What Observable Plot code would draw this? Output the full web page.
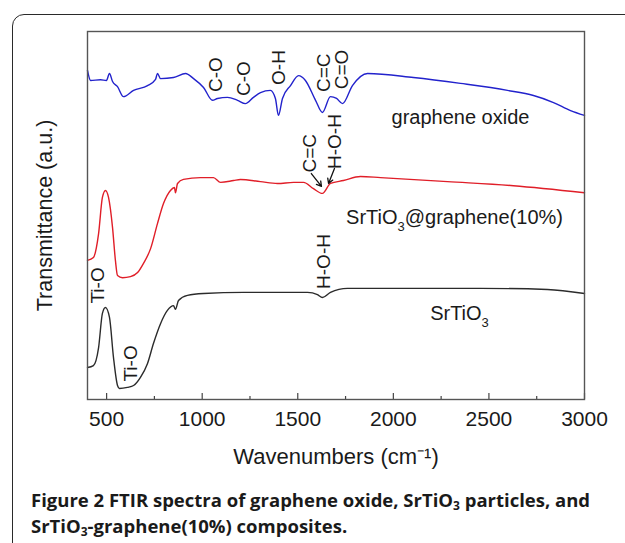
<!DOCTYPE html>
<html>
<head>
<meta charset="utf-8">
<script src="https://cdn.jsdelivr.net/npm/d3@7"></script>
<script src="https://cdn.jsdelivr.net/npm/@observablehq/plot@0.6"></script>
<style>
  html, body { margin: 0; padding: 0; background: #fff; width: 625px; height: 543px; overflow: hidden; }
  #box { position: absolute; left: 12px; top: 14px; width: 700px; height: 600px; border: 1.5px solid #2a2a2a; border-radius: 12px; box-sizing: border-box; }
  #chart { position: absolute; left: 0; top: 0; }
  #caption { position: absolute; left: 31px; top: 487px; font-family: "Open Sans", sans-serif; font-weight: 700; font-size: 18.5px; line-height: 25.5px; color: #1a1a1a; white-space: nowrap; letter-spacing: 0px; }
  #caption sub { font-size: 12px; vertical-align: -3px; line-height: 0; }
</style>
</head>
<body>
<div id="box"></div>
<div id="chart"></div>
<div id="caption">Figure 2 FTIR spectra of graphene oxide, SrTiO<sub>3</sub> particles, and<br>SrTiO<sub>3</sub>-graphene(10%) composites.</div>
<script>
// Wavenumber (cm^-1) and transmittance (a.u.)
const goWave = [400,416,468,499,515,531,557,588,641,714,756,766,782,850,913,955,1007,1054,1080,1132,1185,1226,1268,1305,1357,1383,1399,1420,1462,1504,1540,1593,1629,1671,1703,1734,1786,1865,2105,2351,2597,2733,2838,2927,3000];
const goT    = [89.4,86.7,86.9,86.7,88.6,86.4,85.0,82.3,84.0,85.3,87.0,88.6,87.2,87.5,88.6,87.2,84.8,81.3,81.8,82.1,81.3,80.4,82.1,83.4,84.0,81.8,77.2,81.8,85.3,88.0,86.7,81.3,78.0,82.3,81.8,80.4,85.3,88.6,87.5,85.9,84.0,82.6,80.7,78.5,77.2];

const compWave = [400,431,458,478,494,510,531,546,557,583,625,662,693,730,766,798,834,855,860,871,902,991,1059,1096,1164,1200,1305,1394,1478,1530,1582,1629,1671,1739,1828,1933,2283,2628,3000];
const compT    = [37.8,38.6,45.1,54.9,56.8,54.9,46.7,37.8,33.7,33.1,33.4,34.5,37.0,41.0,47.8,53.3,56.8,57.6,56.2,58.7,59.8,60.3,60.3,59.0,59.5,59.8,59.2,58.7,59.0,59.0,57.3,56.0,58.7,59.5,60.6,60.3,59.2,58.1,56.2];

const stoWave = [400,431,458,478,494,515,536,557,567,609,641,677,714,745,782,818,850,860,876,923,1007,1216,1551,1603,1629,1671,1760,2022,2456,2806,3000];
const stoT    = [8.7,9.2,14.1,23.4,25.0,22.3,11.4,3.8,3.0,3.3,3.8,6.0,9.8,15.2,20.6,24.2,25.5,24.5,26.9,28.3,28.8,29.1,29.1,28.5,27.7,29.1,30.2,30.2,30.2,29.9,28.8];

const seriesNames  = ["graphene oxide", "SrTiO3@graphene(10%)", "SrTiO3"];
const seriesColors = ["#2222cc", "#e01e28", "#2b2b2b"];
const seriesLabelWave = [2351, 2320, 2346];
const seriesLabelT    = [76.6, 49.4, 23.4];

// Band assignments (rotated labels)
const bandText = ["C-O","C-O","O-H","C=C","C=O","C=C","H-O-H","Ti-O","Ti-O","H-O-H"];
const bandWave = [1070,1216,1399,1635,1729,1561,1692,452,625,1635];
const bandT    = [88.3,87.2,90.2,88.8,89.7,66.9,70.1,31.0,9.8,37.5];

// Arrows pointing at the composite's C=C / H-O-H dip
const arrowWave1 = [1571,1692];
const arrowT1    = [61.4,62.8];
const arrowWave2 = [1624,1661];
const arrowT2    = [57.9,58.7];

const xMajor = [500,1000,1500,2000,2500,3000];
const xMinor = [750,1250,1750,2250,2750];

const toRows = (w, t, name) => w.map((x, i) => ({x, y: t[i], name}));
const rows = [
  ...toRows(goWave, goT, seriesNames[0]),
  ...toRows(compWave, compT, seriesNames[1]),
  ...toRows(stoWave, stoT, seriesNames[2])
];
const labels = seriesNames.map((name, i) => ({name, x: seriesLabelWave[i], y: seriesLabelT[i]}));
const bands = bandText.map((t, i) => ({t, x: bandWave[i], y: bandT[i]}));
const arrows = arrowWave1.map((x1, i) => ({x1, y1: arrowT1[i], x2: arrowWave2[i], y2: arrowT2[i]}));

const plot = Plot.plot({
  width: 625,
  height: 480,
  marginLeft: 87,
  marginRight: 41,
  marginTop: 31,
  marginBottom: 81,
  style: {fontFamily: "'Liberation Sans', Arial, sans-serif", background: "transparent", color: "#1a1a1a"},
  x: {domain: [400, 3000], axis: null},
  y: {domain: [0, 100], axis: null},
  color: {domain: seriesNames, range: seriesColors},
  marks: [
    Plot.line(rows, {x: "x", y: "y", z: "name", stroke: "name", strokeWidth: 1.4, curve: "monotone-x"}),
    Plot.arrow(arrows, {x1: "x1", y1: "y1", x2: "x2", y2: "y2", stroke: "#111", strokeWidth: 1.3, headLength: 7}),
    Plot.text(bands, {x: "x", y: "y", text: "t", rotate: -90, fontSize: 19, fill: "#1a1a1a"}),
    Plot.text(labels, {x: "x", y: "y", text: "name", fontSize: 20, fill: "#1a1a1a"}),
    Plot.tickX(xMajor, {x: d => d, insetTop: 362, stroke: "#444", strokeWidth: 1.2}),
    Plot.tickX(xMinor, {x: d => d, insetTop: 365, stroke: "#444", strokeWidth: 1.2}),
    Plot.axisX(xMajor, {tickSize: 0, tickPadding: 12, fontSize: 21, label: null, fill: "#1a1a1a", tickFormat: d => String(d)}),
    Plot.text(["Wavenumbers (cm⁻¹)"], {frameAnchor: "bottom", dy: 64, fontSize: 22, fill: "#1a1a1a"}),
    Plot.text(["Transmittance (a.u.)"], {frameAnchor: "left", textAnchor: "middle", dx: -42, rotate: -90, fontSize: 21.5, fill: "#1a1a1a"}),
    Plot.frame({stroke: "#555", strokeWidth: 1.4})
  ]
});

// Subscript the 3 in SrTiO3 labels
plot.querySelectorAll("text").forEach(t => {
  const s = t.textContent;
  if (s.includes("SrTiO3")) {
    const i = s.indexOf("SrTiO3") + 5;
    const before = s.slice(0, i), sub = s.slice(i, i + 1), after = s.slice(i + 1);
    t.textContent = "";
    const ns = "http://www.w3.org/2000/svg";
    const a = document.createElementNS(ns, "tspan"); a.textContent = before; t.appendChild(a);
    const b = document.createElementNS(ns, "tspan"); b.textContent = sub; b.setAttribute("font-size", "13"); b.setAttribute("dy", "7"); t.appendChild(b);
    if (after) { const c = document.createElementNS(ns, "tspan"); c.textContent = after; c.setAttribute("dy", "-7"); t.appendChild(c); }
  }
});
document.getElementById("chart").appendChild(plot);
</script>
</body>
</html>
